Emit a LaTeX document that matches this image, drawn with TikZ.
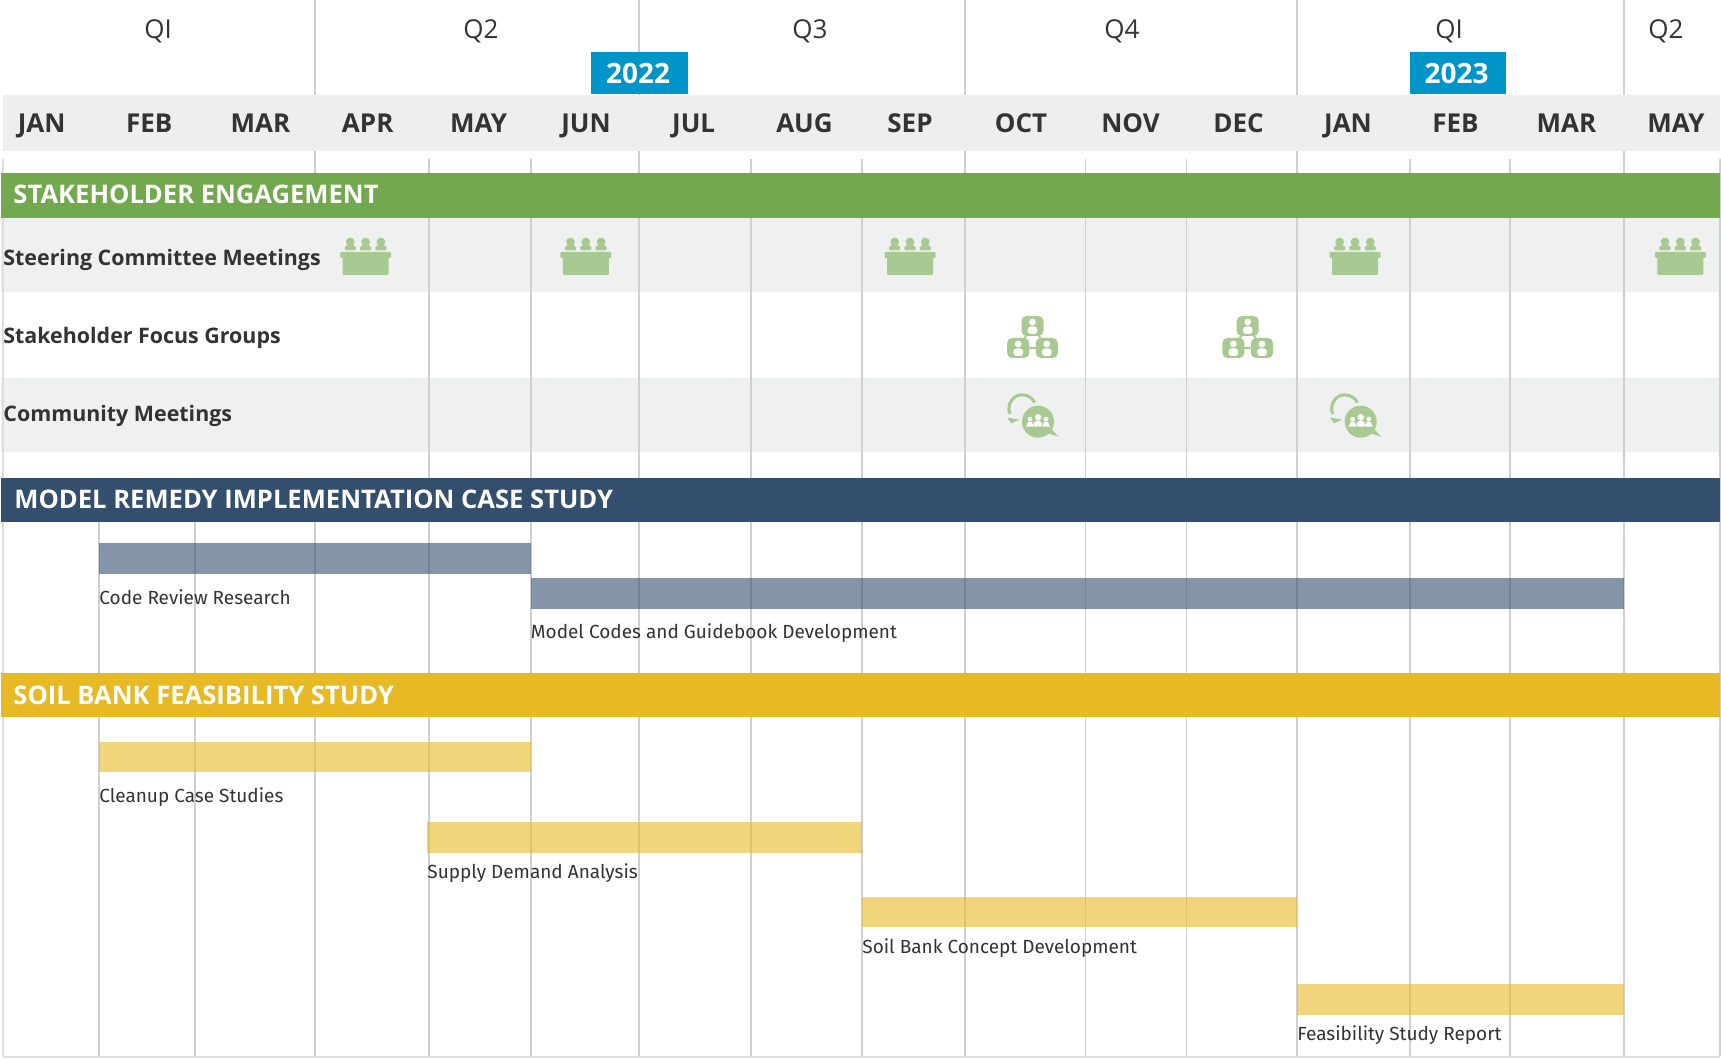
\documentclass[tikz,border=0pt]{standalone}
\usepackage{fontspec}
\setmainfont{Open Sans}
\newfontfamily\firafont{Fira Sans}
\usetikzlibrary{calc}

\definecolor{inkc}{HTML}{333333}
\definecolor{gridc}{HTML}{D0D0D0}
\definecolor{headc}{HTML}{EEEEEE}
\definecolor{rowc}{HTML}{EFF1F1}
\definecolor{yearc}{HTML}{0095C9}
\definecolor{greenc}{HTML}{72A94F}
\definecolor{bluec}{HTML}{344F6E}
\definecolor{yellowc}{HTML}{E6B925}
\definecolor{iconc}{HTML}{A8C991}

\tikzset{
    quarter/.style={font=\fontsize{13}{15}\selectfont, text=inkc, anchor=base, inner sep=0},
    month/.style={font=\fontsize{13}{15}\selectfont\bfseries, text=inkc, anchor=base, inner sep=0},
    yeartext/.style={font=\fontsize{14}{16}\selectfont\bfseries, text=white, anchor=base, inner sep=0},
    section/.style={font=\fontsize{12.8}{15}\selectfont\bfseries, text=white, anchor=base west, inner sep=0},
    rowlabel/.style={font=\fontsize{10.7}{13}\selectfont\bfseries, text=inkc, anchor=base west, inner sep=0},
    barlabel/.style={font=\firafont\fontsize{9.5}{12}\selectfont, text=inkc, anchor=base west, inner sep=0},
    gridline/.style={draw=gridc, line width=0.6pt},
    person/.pic={
        \fill[white] (0,-4) circle (3.4);
        \fill[white, rounded corners=1.5pt] (-4.8,8) -- (-4.8,0.5) -- (4.8,0.5) -- (4.8,8) -- cycle;
    },
    deskicon/.pic={
        % heads and shoulders
        \foreach \hx in {-15.3, 0, 15.3} {
            \fill[iconc] (\hx,-18) circle (4.4);
            \fill[iconc, rounded corners=1.5pt] (\hx-6.5,-9.5) -- (\hx-5,-15) -- (\hx+5,-15) -- (\hx+6.5,-9.5) -- cycle;
        }
        % desk
        \fill[iconc, rounded corners=0.6pt] (-25.5,-8) rectangle (25.5,-2);
        \fill[iconc, rounded corners=0.6pt] (-23,-4) rectangle (23,15);
    },
    groupicon/.pic={
        \draw[iconc, line width=1pt] (0,-11) -- (-14.3,11) -- (14.3,11) -- cycle;
        \foreach \bx/\by in {0/-11, -14.3/11, 14.3/11} {
            \fill[iconc, rounded corners=2.5pt] (\bx-11,\by-10) rectangle (\bx+11,\by+10);
            \pic at (\bx,\by) {person};
        }
    },
    chaticon/.pic={
        % return arrow behind the bubble
        \draw[iconc, line width=1.5pt] (-3.4,-19.1) arc[start angle=-25, end angle=-205, radius=13.5];
        \fill[iconc] (-30.5,-4) -- (-18.5,-2) -- (-27,1.5) -- cycle;
        % speech bubble
        \fill[iconc] (0,0) circle (16);
        \fill[iconc] (8,11) -- (20.5,15) -- (13,7) -- cycle;
        % three people
        \fill[white] (0,-4.5) circle (3.2);
        \fill[white] (-8,-2.5) circle (2.4);
        \fill[white] (8,-2.5) circle (2.4);
        \fill[white, rounded corners=1pt] (-4.5,5) -- (-3.5,-1) -- (3.5,-1) -- (4.5,5) -- cycle;
        \fill[white] (-12,5) -- (-10,0.5) -- (-6,0.5) -- (-4,5) -- cycle;
        \fill[white] (12,5) -- (10,0.5) -- (6,0.5) -- (4,5) -- cycle;
    },
}

\begin{document}
\begin{tikzpicture}[x=0.5pt, y=-0.5pt]
    \useasboundingbox (0,0) rectangle (1721,1059);

    % grey rows
    \fill[rowc] (1,218) rectangle (1720,292);
    \fill[rowc] (1,378) rectangle (1720,452);

    % month lines
    \foreach \gx in {429, 531, 751, 862, 1085.5, 1186.5, 1410, 1510, 1720} {
        \draw[gridline] (\gx,159) -- (\gx,1056);
    }
    % quarter lines, from the top
    \foreach \gx in {639, 965, 1297, 1624} {
        \draw[gridline] (\gx,0) -- (\gx,1056);
    }
    \draw[gridline] (315,0) -- (315,173);
    \foreach \gx in {99, 195, 315} {
        \draw[gridline] (\gx,522) -- (\gx,1056);
    }
    \draw[gridc!70, line width=1pt] (3,159) -- (3,1056);
    \draw[gridc!70, line width=1.2pt] (3,1057) -- (1720,1057);

    % quarters
    \foreach \qname/\qx [count=\i] in {QI/158, Q2/481, Q3/810, Q4/1122, QI/1449, Q2/1666} {
        \node[quarter] (q\i) at (\qx,38.5) {\qname};
    }

    % month header
    \fill[headc] (3,95) rectangle (1720,151);
    \foreach \mname/\mx [count=\i] in {JAN/41.6, FEB/149.3, MAR/260.5, APR/367.7, MAY/478.6, JUN/586,
        JUL/693.7, AUG/804.5, SEP/910, OCT/1021, NOV/1130.5, DEC/1238.5,
        JAN/1348, FEB/1455.5, MAR/1566.5, MAY/1676} {
        \node[month] (m\i) at (\mx,133) {\mname};
    }

    % years
    \fill[yearc] (590.5,52.5) rectangle (687.5,94);
    \node[yeartext] (y2022) at (638,83.5) {2022};
    \fill[yearc] (1409.5,52.5) rectangle (1506,94);
    \node[yeartext] (y2023) at (1456.5,83.5) {2023};

    % section bands
    \fill[greenc] (1,173.5) rectangle (1720,218);
    \node[section] (stake) at (13,204) {STAKEHOLDER ENGAGEMENT};
    \fill[bluec] (1,478.5) rectangle (1720,522.5);
    \node[section] (model) at (14,508.5) {MODEL REMEDY IMPLEMENTATION CASE STUDY};
    \fill[yellowc] (1,672.5) rectangle (1720,717);
    \node[section] (soil) at (13,704.5) {SOIL BANK FEASIBILITY STUDY};

    % row labels
    \node[rowlabel] (steer) at (3,266) {Steering Committee Meetings};
    \node[rowlabel] (focus) at (3,343.3) {Stakeholder Focus Groups};
    \node[rowlabel] (comm) at (3,422) {Community Meetings};

    % icons
    \foreach \ix in {365.6, 585.8, 910, 1355, 1680.3} {
        \pic at (\ix,260) {deskicon};
    }
    \foreach \ix in {1032.5, 1247.7} {
        \pic at (\ix,337) {groupicon};
    }
    \foreach \ix in {1038, 1360.7} {
        \pic at (\ix,421.7) {chaticon};
    }

    % model remedy bars
    \fill[bluec, opacity=0.6] (99,543) rectangle (531,574);
    \node[barlabel] (code) at (99,604) {Code Review Research};
    \fill[bluec, opacity=0.6] (531,578) rectangle (1624,609);
    \node[barlabel] (guide) at (530.5,639) {Model Codes and Guidebook Development};

    % soil bank bars
    \fill[yellowc, opacity=0.6] (99,742) rectangle (531,772);
    \node[barlabel] (clean) at (99,802) {Cleanup Case Studies};
    \fill[yellowc, opacity=0.6] (427,822) rectangle (862,853);
    \node[barlabel] (supply) at (427,878.3) {Supply Demand Analysis};
    \fill[yellowc, opacity=0.6] (862,897) rectangle (1297,927);
    \node[barlabel] (concept) at (862,953) {Soil Bank Concept Development};
    \fill[yellowc, opacity=0.6] (1297,983.5) rectangle (1624,1014.5);
    \node[barlabel] (report) at (1297,1040) {Feasibility Study Report};
\end{tikzpicture}
\end{document}
